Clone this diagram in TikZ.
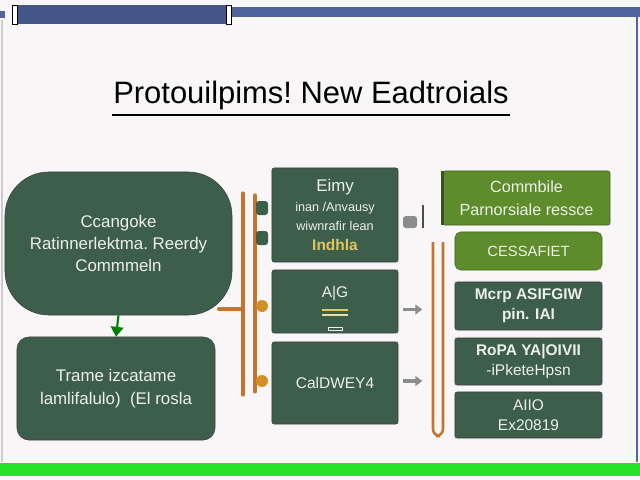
\documentclass[tikz,border=0pt]{standalone}
\usepackage{fontspec}
\setmainfont{Liberation Sans}
\usepackage{tikz}
\usetikzlibrary{arrows.meta}
\definecolor{paper}{RGB}{249,246,247}
\definecolor{board}{RGB}{62,94,76}
\definecolor{leaf}{RGB}{94,140,44}
\definecolor{copper}{RGB}{196,116,48}
\definecolor{navy}{RGB}{80,100,160}
\definecolor{chalk}{RGB}{236,240,232}
\definecolor{mustard}{RGB}{224,198,96}
\definecolor{lime}{RGB}{40,226,40}

\begin{document}
\begin{tikzpicture}[x=0.025cm, y=-0.025cm,
    box/.style={draw=black!75, fill=board, text=chalk, align=center, inner sep=0pt, rounded corners=1.5pt},
    leafbox/.style={box, fill=leaf, draw=leaf!70!black},
    rod/.style={draw=copper, line width=2.2pt, line cap=round},
    pointer/.style={draw=black!45, line width=2.5pt, -{Triangle[length=5pt,width=7pt]}}]
    \fill[paper] (0,0) rectangle (640,480);
    \useasboundingbox (0,0) rectangle (640,480);
    \fill[navy] (232,7) rectangle (640,17); \fill[navy] (0,11) rectangle (5,18);
    \fill[navy!85!black] (14,5) rectangle (230,24);
    \draw[black, fill=white] (12,5) rectangle (17,24) (226,5) rectangle (231,24);
    \draw[black!20, line width=1pt] (2,20) -- (2,462); \draw[navy, line width=1pt] (637,17) -- (637,462);
    \fill[lime] (0,463) rectangle (640,476);
    \node[font=\fontsize{22}{26}\selectfont, inner sep=1pt] (title) at (311,96) {Protouilpims!\ New Eadtroials};
    \draw[line width=1.6pt] ([yshift=-2pt]title.south west) -- ([yshift=-2pt]title.south east);
    \node[box, minimum width=5.675cm, minimum height=3.575cm, rounded corners=1.1cm, font=\fontsize{12}{15.5}\selectfont] (plan) at (118.5,243.5) {Ccangoke\\ Ratinnerlektma.\ Reerdy\\ Commmeln};
    \node[box, minimum width=4.95cm, minimum height=2.575cm, rounded corners=0.3cm, font=\fontsize{12}{16}\selectfont] (brief) at (116,388.5) {Trame izcatame\\ lamlifalulo)\ \ (El rosla};
    \draw[green!50!black, line width=1.5pt, -{Triangle[length=7pt,width=9pt]}] (plan.south) -- (brief.north);
    \coordinate (rodA1) at (243,193); \coordinate (rodA2) at (243,395);
    \coordinate (rodB1) at (255,195); \coordinate (rodB2) at (255,392);
    \draw[rod] (rodA1) -- (rodA2); \draw[rod] (rodB1) -- (rodB2);
    \coordinate (stub) at (241,309); \draw[rod, line width=2.8pt] (stub) -- ++(-22,0);
    \foreach \y in {208,238} {\fill[board, rounded corners=2pt] (256,\y-7) rectangle (268,\y+7);}
    \foreach \y in {306,381} {\fill[copper!80!yellow] (262,\y) circle (6);}
    \node[box, minimum width=3.15cm, minimum height=2.35cm, font=\fontsize{9}{14}\selectfont] (entry) at (335,215) {{\fontsize{12}{14}\selectfont Eimy}\\ inan /Anvausy\\ wiwnrafir lean\\ {\color{mustard}\bfseries\fontsize{11}{14}\selectfont Indhla}};
    \node[box, minimum width=3.15cm, minimum height=1.575cm, font=\fontsize{11}{13}\selectfont, text height=9pt, text depth=15pt] (agenda) at (335,301.5) {A\textbar G};
    \draw[mustard, line width=1.5pt] ([shift={(-13,8.5)}]agenda.center) -- ([shift={(13,8.5)}]agenda.center);
    \draw[mustard!60!white, line width=1pt] ([shift={(-13,13.5)}]agenda.center) -- ([shift={(13,13.5)}]agenda.center);
    \draw[chalk, line width=0.6pt] ([shift={(-7,26)}]agenda.center) rectangle ([shift={(7,29)}]agenda.center);
    \node[box, minimum width=3.15cm, minimum height=2.05cm, font=\fontsize{11}{13}\selectfont] (gate) at (335,383) {CalDWEY4};
    \fill[black!45, rounded corners=2pt] (403,216) rectangle (417,228); \draw[black!70, line width=1.5pt] (423,205) -- (423,228);
    \draw[pointer] ([shift={(5,8)}]agenda.east) -- ([shift={(24,8)}]agenda.east);
    \draw[pointer] ([shift={(5,-2)}]gate.east) -- ([shift={(24,-2)}]gate.east);
    \draw[copper, line width=1.8pt, rounded corners=5pt] (433,242) -- (433,436) -- (443,436) -- (443,242);
    \node[leafbox, minimum width=4.175cm, minimum height=1.35cm, font=\fontsize{11.5}{16}\selectfont] (combo) at (526.5,198) {Commbile\\ Parnorsiale ressce};
    \draw[leaf!60!black, line width=2pt] (combo.north west) -- (combo.south west);
    \node[leafbox, minimum width=3.675cm, minimum height=0.95cm, rounded corners=4pt, font=\fontsize{10.5}{13}\selectfont] (cess) at (528.5,251) {CESSAFIET};
    \node[box, minimum width=3.675cm, minimum height=1.2cm, font=\bfseries\fontsize{11}{14}\selectfont] (merp) at (528.5,306) {Mcrp ASIFGIW\\ pin. IAI};
    \node[box, minimum width=3.675cm, minimum height=1.175cm, font=\bfseries\fontsize{11}{14}\selectfont] (ropa) at (528.5,361.5) {RoPA YA\textbar OIVII\\ {\mdseries -iPketeHpsn}};
    \node[box, minimum width=3.675cm, minimum height=1.15cm, font=\fontsize{11}{14}\selectfont] (alio) at (528.5,415) {AIIO\\ Ex20819};
\end{tikzpicture}
\end{document}
